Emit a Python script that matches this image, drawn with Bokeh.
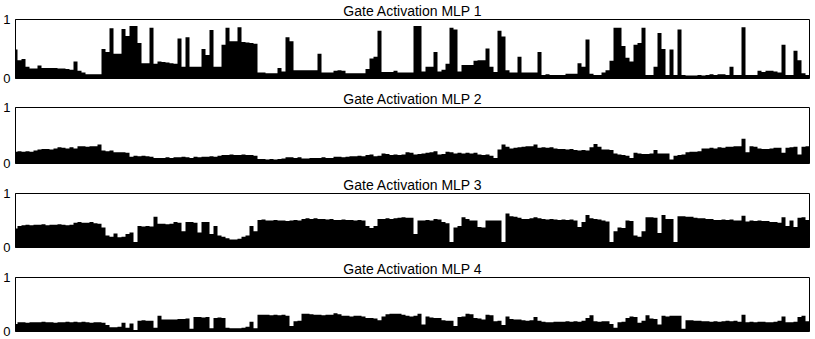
from bokeh.plotting import figure
from bokeh.layouts import column
from bokeh.models import Range1d, FixedTicker
from bokeh.embed import file_html
from bokeh.resources import INLINE

titles = ["Gate Activation MLP 1", "Gate Activation MLP 2",
          "Gate Activation MLP 3", "Gate Activation MLP 4"]
y_ticks = [0, 1]

mlp1 = [0.49, 0.31, 0.33, 0.20, 0.17, 0.17, 0.22, 0.18, 0.18, 0.18,
        0.18, 0.17, 0.17, 0.16, 0.15, 0.29, 0.13, 0.10, 0.07, 0.07,
        0.07, 0.07, 0.50, 0.45, 0.85, 0.42, 0.42, 0.84, 0.72, 0.89,
        0.89, 0.60, 0.26, 0.26, 0.86, 0.25, 0.29, 0.28, 0.27, 0.26,
        0.25, 0.68, 0.20, 0.70, 0.20, 0.20, 0.20, 0.50, 0.40, 0.82,
        0.20, 0.20, 0.57, 0.86, 0.63, 0.63, 0.87, 0.62, 0.61, 0.60,
        0.59, 0.10, 0.10, 0.09, 0.09, 0.09, 0.18, 0.12, 0.70, 0.63,
        0.14, 0.14, 0.14, 0.14, 0.14, 0.14, 0.42, 0.10, 0.10, 0.10,
        0.13, 0.14, 0.13, 0.09, 0.09, 0.09, 0.09, 0.09, 0.16, 0.34,
        0.37, 0.81, 0.11, 0.11, 0.11, 0.13, 0.10, 0.10, 0.10, 0.10,
        0.89, 0.89, 0.12, 0.20, 0.20, 0.45, 0.12, 0.15, 0.25, 0.86,
        0.83, 0.12, 0.23, 0.23, 0.23, 0.30, 0.31, 0.31, 0.51, 0.20,
        0.11, 0.81, 0.71, 0.14, 0.10, 0.10, 0.37, 0.10, 0.10, 0.10,
        0.10, 0.45, 0.06, 0.07, 0.06, 0.06, 0.06, 0.06, 0.08, 0.08,
        0.08, 0.26, 0.20, 0.66, 0.08, 0.06, 0.06, 0.10, 0.14, 0.30,
        0.86, 0.86, 0.55, 0.35, 0.29, 0.57, 0.60, 0.86, 0.06, 0.06,
        0.20, 0.77, 0.50, 0.06, 0.49, 0.06, 0.83, 0.06, 0.05, 0.05,
        0.05, 0.06, 0.05, 0.06, 0.07, 0.06, 0.07, 0.07, 0.06, 0.20,
        0.06, 0.06, 0.87, 0.06, 0.06, 0.06, 0.13, 0.11, 0.13, 0.13,
        0.12, 0.10, 0.57, 0.06, 0.06, 0.47, 0.31, 0.09, 0.06, 0.06]

mlp2 = [0.21, 0.22, 0.21, 0.22, 0.21, 0.23, 0.25, 0.26, 0.26, 0.25,
        0.27, 0.29, 0.28, 0.27, 0.29, 0.27, 0.31, 0.31, 0.30, 0.31,
        0.31, 0.34, 0.23, 0.22, 0.23, 0.20, 0.20, 0.20, 0.19, 0.12,
        0.14, 0.13, 0.14, 0.13, 0.12, 0.10, 0.10, 0.10, 0.11, 0.10,
        0.11, 0.11, 0.12, 0.11, 0.10, 0.12, 0.11, 0.12, 0.12, 0.13,
        0.12, 0.14, 0.15, 0.15, 0.16, 0.15, 0.15, 0.16, 0.15, 0.15,
        0.14, 0.08, 0.08, 0.07, 0.08, 0.07, 0.08, 0.09, 0.11, 0.11,
        0.10, 0.11, 0.09, 0.09, 0.10, 0.10, 0.10, 0.11, 0.10, 0.10,
        0.12, 0.12, 0.11, 0.12, 0.13, 0.13, 0.14, 0.13, 0.15, 0.16,
        0.13, 0.14, 0.18, 0.17, 0.15, 0.16, 0.15, 0.16, 0.20, 0.19,
        0.16, 0.17, 0.18, 0.19, 0.20, 0.22, 0.16, 0.17, 0.21, 0.20,
        0.18, 0.19, 0.18, 0.19, 0.18, 0.19, 0.16, 0.15, 0.16, 0.14,
        0.10, 0.25, 0.34, 0.30, 0.27, 0.28, 0.29, 0.30, 0.31, 0.31,
        0.34, 0.28, 0.29, 0.28, 0.29, 0.27, 0.26, 0.26, 0.25, 0.26,
        0.24, 0.23, 0.24, 0.23, 0.29, 0.35, 0.30, 0.25, 0.25, 0.24,
        0.18, 0.16, 0.15, 0.14, 0.10, 0.19, 0.18, 0.17, 0.17, 0.18,
        0.24, 0.18, 0.18, 0.18, 0.07, 0.14, 0.15, 0.16, 0.20, 0.21,
        0.21, 0.22, 0.27, 0.27, 0.28, 0.27, 0.29, 0.28, 0.30, 0.30,
        0.31, 0.31, 0.44, 0.20, 0.31, 0.30, 0.27, 0.26, 0.26, 0.27,
        0.28, 0.28, 0.19, 0.28, 0.29, 0.30, 0.16, 0.30, 0.31, 0.30]

mlp3 = [0.35, 0.40, 0.41, 0.42, 0.41, 0.42, 0.42, 0.43, 0.41, 0.42,
        0.42, 0.43, 0.42, 0.41, 0.42, 0.46, 0.47, 0.46, 0.46, 0.47,
        0.45, 0.44, 0.37, 0.22, 0.20, 0.26, 0.19, 0.20, 0.25, 0.28,
        0.10, 0.40, 0.39, 0.40, 0.39, 0.57, 0.44, 0.44, 0.43, 0.44,
        0.47, 0.46, 0.30, 0.47, 0.47, 0.46, 0.28, 0.47, 0.47, 0.25,
        0.40, 0.22, 0.20, 0.17, 0.15, 0.15, 0.16, 0.20, 0.22, 0.40,
        0.30, 0.51, 0.52, 0.50, 0.50, 0.51, 0.50, 0.50, 0.49, 0.50,
        0.51, 0.50, 0.53, 0.54, 0.53, 0.54, 0.53, 0.53, 0.52, 0.53,
        0.51, 0.51, 0.52, 0.51, 0.51, 0.50, 0.51, 0.50, 0.40, 0.36,
        0.40, 0.53, 0.53, 0.54, 0.53, 0.54, 0.55, 0.56, 0.55, 0.55,
        0.25, 0.50, 0.50, 0.51, 0.50, 0.53, 0.52, 0.47, 0.45, 0.10,
        0.37, 0.40, 0.56, 0.53, 0.50, 0.50, 0.38, 0.37, 0.50, 0.50,
        0.50, 0.50, 0.10, 0.63, 0.58, 0.57, 0.55, 0.53, 0.53, 0.54,
        0.56, 0.54, 0.53, 0.52, 0.53, 0.52, 0.51, 0.52, 0.51, 0.52,
        0.50, 0.38, 0.47, 0.60, 0.54, 0.53, 0.52, 0.50, 0.48, 0.10,
        0.30, 0.37, 0.36, 0.50, 0.49, 0.22, 0.20, 0.30, 0.56, 0.56,
        0.55, 0.27, 0.60, 0.53, 0.53, 0.10, 0.58, 0.58, 0.57, 0.57,
        0.55, 0.54, 0.54, 0.53, 0.53, 0.51, 0.51, 0.52, 0.51, 0.52,
        0.50, 0.50, 0.59, 0.48, 0.50, 0.49, 0.50, 0.49, 0.49, 0.47,
        0.47, 0.46, 0.56, 0.40, 0.50, 0.38, 0.55, 0.56, 0.51, 0.50]

mlp4 = [0.14, 0.17, 0.17, 0.16, 0.17, 0.17, 0.17, 0.18, 0.17, 0.17,
        0.16, 0.17, 0.17, 0.18, 0.17, 0.18, 0.17, 0.18, 0.17, 0.16,
        0.17, 0.17, 0.16, 0.12, 0.08, 0.08, 0.09, 0.16, 0.07, 0.15,
        0.03, 0.20, 0.21, 0.20, 0.20, 0.07, 0.29, 0.22, 0.22, 0.22,
        0.22, 0.23, 0.23, 0.24, 0.05, 0.27, 0.27, 0.26, 0.27, 0.06,
        0.25, 0.26, 0.25, 0.07, 0.06, 0.06, 0.06, 0.07, 0.09, 0.18,
        0.06, 0.31, 0.31, 0.31, 0.30, 0.31, 0.30, 0.31, 0.29, 0.10,
        0.19, 0.20, 0.33, 0.33, 0.32, 0.31, 0.31, 0.30, 0.31, 0.31,
        0.34, 0.32, 0.29, 0.29, 0.28, 0.29, 0.29, 0.28, 0.25, 0.25,
        0.24, 0.21, 0.28, 0.32, 0.33, 0.33, 0.33, 0.31, 0.29, 0.28,
        0.29, 0.33, 0.13, 0.28, 0.26, 0.25, 0.25, 0.21, 0.20, 0.20,
        0.10, 0.27, 0.28, 0.33, 0.32, 0.25, 0.24, 0.22, 0.31, 0.30,
        0.19, 0.20, 0.12, 0.28, 0.23, 0.22, 0.22, 0.21, 0.20, 0.21,
        0.27, 0.20, 0.18, 0.17, 0.17, 0.18, 0.18, 0.18, 0.19, 0.18,
        0.19, 0.18, 0.20, 0.25, 0.30, 0.19, 0.18, 0.19, 0.19, 0.14,
        0.07, 0.17, 0.18, 0.25, 0.28, 0.27, 0.16, 0.20, 0.30, 0.24,
        0.23, 0.13, 0.29, 0.28, 0.29, 0.29, 0.29, 0.05, 0.21, 0.21,
        0.20, 0.20, 0.19, 0.19, 0.18, 0.19, 0.18, 0.19, 0.20, 0.19,
        0.20, 0.18, 0.31, 0.17, 0.18, 0.17, 0.18, 0.18, 0.17, 0.17,
        0.18, 0.20, 0.28, 0.17, 0.17, 0.18, 0.27, 0.29, 0.19, 0.18]

series = [mlp1, mlp2, mlp3, mlp4]
frame_heights = [59, 56, 54, 54]
bottom_borders = [10, 11, 11, 8]

FONT = "Liberation Sans"
figs = []
for k, (vals, ttl) in enumerate(zip(series, titles)):
    steps = list(range(len(vals)))
    p = figure(frame_width=795, frame_height=frame_heights[k],
               min_border_left=12, min_border_right=0,
               min_border_top=0, min_border_bottom=bottom_borders[k],
               x_range=Range1d(0, 198.75), y_range=Range1d(0, 1),
               output_backend="svg", toolbar_location=None,
               title=ttl)
    p.varea_step(x=steps, y1=0, y2=vals, step_mode="center",
                 fill_color="black")
    p.xaxis.visible = False
    p.grid.visible = False
    p.outline_line_color = "black"
    p.outline_line_width = 1
    p.outline_line_alpha = 1
    ya = p.yaxis[0]
    ya.ticker = FixedTicker(ticks=y_ticks)
    ya.axis_line_color = "black"
    ya.major_tick_out = 0
    ya.major_tick_in = 0
    ya.minor_tick_out = 0
    ya.minor_tick_in = 0
    ya.major_label_standoff = 5
    ya.major_label_text_font = FONT
    ya.major_label_text_font_size = "13px"
    ya.major_label_text_color = "black"
    p.title.text_font = FONT
    p.title.text_font_size = "14px"
    p.title.text_font_style = "normal"
    p.title.align = "center"
    p.title.standoff = 1
    p.title.text_color = "black"
    p.background_fill_color = "white"
    p.border_fill_color = "white"
    figs.append(p)

layout = column(*figs, spacing=0)
open("out.html", "w").write(file_html(layout, INLINE))
